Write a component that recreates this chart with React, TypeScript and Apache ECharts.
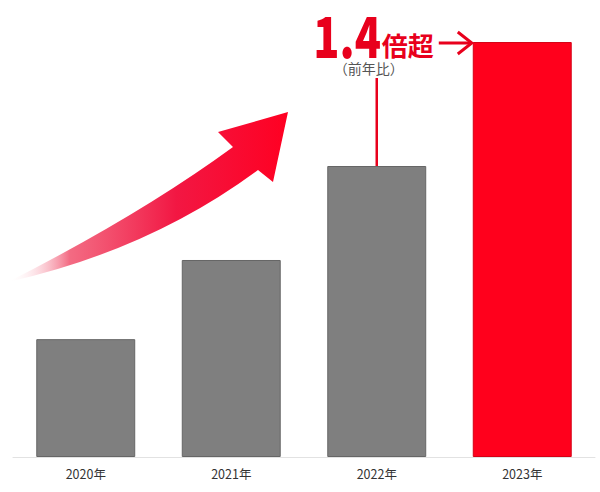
import { useEffect, useRef } from 'react'
import * as echarts from 'echarts'

const categories = ['2020年', '2021年', '2022年', '2023年']
const values = [40.5, 67.7, 100, 142.6]
const barColors = ['#7f7f7f', '#7f7f7f', '#7f7f7f', '#ff001c']
const borderColors = ['#666666', '#666666', '#666666', '#d40014']

const growthMain = '1.4'
const growthSuffix = '倍超'
const growthNote = '（前年比）'

const font = '"Noto Sans CJK JP", "Noto Sans", sans-serif'
const red = '#e8001c'

// curved rising arrow on the left
echarts.graphic.registerShape(
  'riseArrow',
  echarts.graphic.extendPath(
    'M 8 282 Q 140 215 233 147 L 218 132 L 288 112 L 273 182 L 258 170 Q 150 250 8 282 Z',
    {}
  )
)

export default function App() {
  const ref = useRef<HTMLDivElement | null>(null)

  useEffect(() => {
    if (!ref.current) return
    document.body.style.margin = '0'

    const chart = echarts.init(ref.current, null, { renderer: 'svg' })
    chart.setOption({
      animation: false,
      backgroundColor: '#ffffff',
      textStyle: { fontFamily: font },
      grid: { left: 13, right: 5, top: 20.5, bottom: 35 },
      xAxis: {
        type: 'category',
        data: categories,
        axisLine: { lineStyle: { color: '#e2e2e2', width: 1 } },
        axisTick: { alignWithLabel: true, length: 5, lineStyle: { color: '#cfcfcf' } },
        axisLabel: { color: '#333333', fontSize: 12.5, margin: 10, fontFamily: font }
      },
      yAxis: {
        type: 'value',
        min: 0,
        max: 150,
        show: false,
        splitLine: { show: false }
      },
      series: [
        {
          type: 'bar',
          barWidth: '68%',
          data: values.map((v, i) => ({
            value: v,
            itemStyle: { color: barColors[i], borderColor: borderColors[i], borderWidth: 1 }
          }))
        }
      ]
    })

    const p3 = chart.convertToPixel({ seriesIndex: 0 }, [categories[2], values[2]]) as number[]
    const p4 = chart.convertToPixel({ seriesIndex: 0 }, [categories[3], values[3]]) as number[]
    const step = p4[0] - p3[0]
    const half = (step * 0.68) / 2
    const arrowY = p4[1] + 1
    const arrowEnd = p4[0] - half - 1

    chart.setOption({
      graphic: [
        {
          type: 'riseArrow',
          x: 0,
          y: 0,
          z: 10,
          style: {
            fill: new echarts.graphic.LinearGradient(0, 0, 1, 0, [
              { offset: 0, color: 'rgba(255,255,255,0)' },
              { offset: 0.22, color: 'rgba(240,70,100,0.8)' },
              { offset: 0.6, color: '#f21743' },
              { offset: 1, color: '#ff0022' }
            ])
          }
        },
        {
          type: 'line',
          z: 10,
          shape: { x1: p3[0], y1: 78, x2: p3[0], y2: p3[1] },
          style: { stroke: red, lineWidth: 2.5 }
        },
        {
          type: 'text',
          z: 10,
          x: p3[0] - 63.5,
          y: 33,
          scaleX: 0.77,
          style: {
            text: growthMain,
            fill: red,
            font: `900 56px ${font}`,
            lineHeight: 56,
            align: 'left',
            verticalAlign: 'middle'
          }
        },
        {
          type: 'text',
          z: 10,
          x: p3[0] + 5,
          y: 44,
          style: {
            text: growthSuffix,
            fill: red,
            font: `bold 26px ${font}`,
            align: 'left',
            verticalAlign: 'middle'
          }
        },
        {
          type: 'text',
          z: 10,
          x: p3[0] - 8,
          y: 68,
          style: {
            text: growthNote,
            fill: '#555555',
            font: `14px ${font}`,
            align: 'center',
            verticalAlign: 'middle'
          }
        },
        {
          type: 'line',
          z: 10,
          shape: { x1: arrowEnd - 33, y1: arrowY, x2: arrowEnd - 1, y2: arrowY },
          style: { stroke: red, lineWidth: 3 }
        },
        {
          type: 'polyline',
          z: 10,
          shape: {
            points: [
              [arrowEnd - 14, arrowY - 11],
              [arrowEnd, arrowY],
              [arrowEnd - 14, arrowY + 11]
            ]
          },
          style: { stroke: red, lineWidth: 3, fill: 'none' }
        }
      ]
    })

    return () => {
      chart.dispose()
    }
  }, [])

  return <div ref={ref} style={{ width: 600, height: 492 }} />
}
